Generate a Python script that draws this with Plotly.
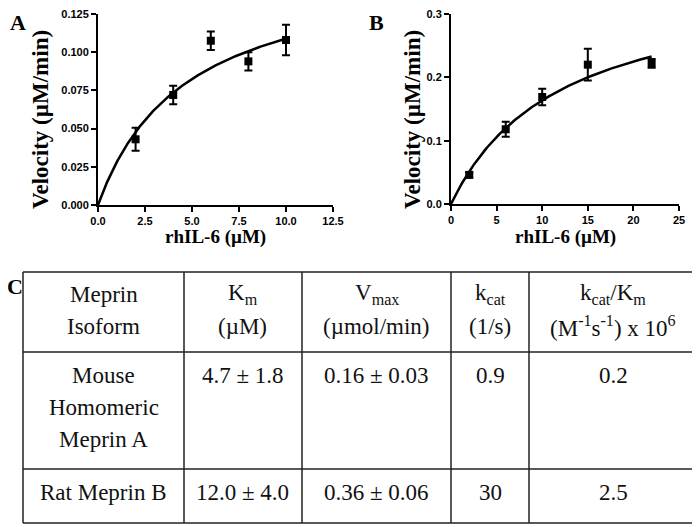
import numpy as np
import plotly.graph_objects as go

W, H = 700, 527
OFFX, OFFY = 8, 3  # page body margin shifts the figure on screen
OFFY_TABLE = 8

# panel A: mouse homomeric meprin A
a_x = [2, 4, 6, 8, 10]
a_y = [0.043, 0.072, 0.1075, 0.094, 0.108]
a_err = [0.0075, 0.006, 0.006, 0.006, 0.010]

# panel B: rat meprin B
b_x = [2, 6, 10, 15, 22]
b_y = [0.046, 0.118, 0.169, 0.220, 0.222]
b_err = [0.004, 0.012, 0.013, 0.025, 0.007]

# table C
isoforms = [["Mouse", "Homomeric", "Meprin A"], ["Rat Meprin B"]]
km_vals = [4.7, 12.0]
km_err = [1.8, 4.0]
vmax_vals = [0.16, 0.36]
vmax_err = [0.03, 0.06]
kcat_vals = ["0.9", "30"]
eff_vals = ["0.2", "2.5"]
headers = [
    ["Meprin", "Isoform"],
    ["K<sub>m</sub>", "(µM)"],
    ["V<sub>max</sub>", "(µmol/min)"],
    ["k<sub>cat</sub>", "(1/s)"],
    ["k<sub>cat</sub>/K<sub>m</sub>", "(M<sup>-1</sup>s<sup>-1</sup>) x 10<sup>6</sup>"],
]


def px(x):
    return (x - OFFX) / W


def py(y, off=OFFY):
    return 1 - (y - off) / H


def mm_curve(vmax, km, xmax):
    s = np.linspace(0, xmax, 200)
    return s, vmax * s / (km + s)


fig = go.Figure()

err_style = dict(type="data", thickness=2, width=4, color="black")
mk = dict(symbol="square", size=8, color="black")

cx, cy = mm_curve(vmax_vals[0], km_vals[0], max(a_x))
fig.add_trace(go.Scatter(x=cx, y=cy, mode="lines", line=dict(color="black", width=2.5),
                         xaxis="x", yaxis="y", hoverinfo="skip"))
fig.add_trace(go.Scatter(x=a_x, y=a_y, mode="markers", marker=mk,
                         error_y=dict(array=a_err, **err_style), xaxis="x", yaxis="y"))

cx, cy = mm_curve(vmax_vals[1], km_vals[1], max(b_x))
fig.add_trace(go.Scatter(x=cx, y=cy, mode="lines", line=dict(color="black", width=2.5),
                         xaxis="x2", yaxis="y2", hoverinfo="skip"))
fig.add_trace(go.Scatter(x=b_x, y=b_y, mode="markers", marker=mk,
                         error_y=dict(array=b_err, **err_style), xaxis="x2", yaxis="y2"))

tickfont = dict(family="Liberation Sans", size=11, color="black", weight="bold")
ax = dict(showgrid=False, zeroline=False, showline=True, linecolor="black", linewidth=2,
          ticks="outside", ticklen=5, tickwidth=2, tickcolor="black",
          tickfont=tickfont, fixedrange=True, automargin=False, ticklabeloverflow="allow")

fig.update_layout(
    width=W, height=H,
    margin=dict(l=0, r=0, t=0, b=0, autoexpand=False),
    paper_bgcolor="white", plot_bgcolor="white",
    showlegend=False,
    xaxis=dict(ax, domain=[px(98), px(333)], range=[0, 12.5], dtick=2.5, tickformat=".1f",
               anchor="y"),
    yaxis=dict(ax, domain=[py(200), py(9)], range=[0, 0.125], dtick=0.025, tickformat=".3f",
               anchor="x"),
    xaxis2=dict(ax, domain=[px(451), px(679)], range=[0, 25], dtick=5, anchor="y2"),
    yaxis2=dict(ax, domain=[py(199), py(9)], range=[0, 0.3], dtick=0.1, tickformat=".1f",
                anchor="x2"),
)

serif = "Liberation Serif"
ann = []


def label(text, x, y, size, angle=0, color="black", off=OFFY):
    ann.append(dict(text=text, x=px(x), y=py(y, off), xref="paper", yref="paper",
                    showarrow=False, xanchor="center", yanchor="middle", textangle=angle,
                    font=dict(family=serif, size=size, color=color)))


# panel labels
for lab, x, y in [("A", 18, 18), ("B", 376, 18)]:
    label(f"<b>{lab}</b>", x, y, 22)
label("<b>C</b>", 15, 286, 22, off=OFFY_TABLE)
# axis titles
for x in [40, 412]:
    label("<b>Velocity (µM/min)</b>", x, 115, 23, angle=-90)
for x in [215, 565]:
    label("<b>rhIL-6 (µM)</b>", x, 232, 19)

# table
col_edges = [23, 184, 302, 451, 529, 697]
row_edges = [272, 352, 469, 523]
shapes = []
for xe in col_edges:
    shapes.append(dict(type="line", xref="paper", yref="paper", x0=px(xe), x1=px(xe),
                       y0=py(row_edges[0], OFFY_TABLE), y1=py(row_edges[-1], OFFY_TABLE),
                       line=dict(color="#222", width=1.5)))
for ye in row_edges:
    shapes.append(dict(type="line", xref="paper", yref="paper", x0=px(col_edges[0]),
                       x1=px(col_edges[-1]), y0=py(ye, OFFY_TABLE), y1=py(ye, OFFY_TABLE),
                       line=dict(color="#222", width=1.5)))

centers = [(col_edges[i] + col_edges[i + 1]) / 2 for i in range(5)]
line_h = 32


def cell(text, col, y):
    label(text, centers[col], y, 23, color="#111", off=OFFY_TABLE)


for c, lines in enumerate(headers):
    for k, t in enumerate(lines):
        cell(t, c, 294 + k * line_h)

row_top = [375, 492]
for r in range(2):
    for k, t in enumerate(isoforms[r]):
        cell(t, 0, row_top[r] + k * line_h)
    cell(f"{km_vals[r]:.1f} ± {km_err[r]:.1f}", 1, row_top[r])
    cell(f"{vmax_vals[r]:.2f} ± {vmax_err[r]:.2f}", 2, row_top[r])
    cell(kcat_vals[r], 3, row_top[r])
    cell(eff_vals[r], 4, row_top[r])

fig.update_layout(annotations=ann, shapes=shapes)
fig.write_html("out.html")
